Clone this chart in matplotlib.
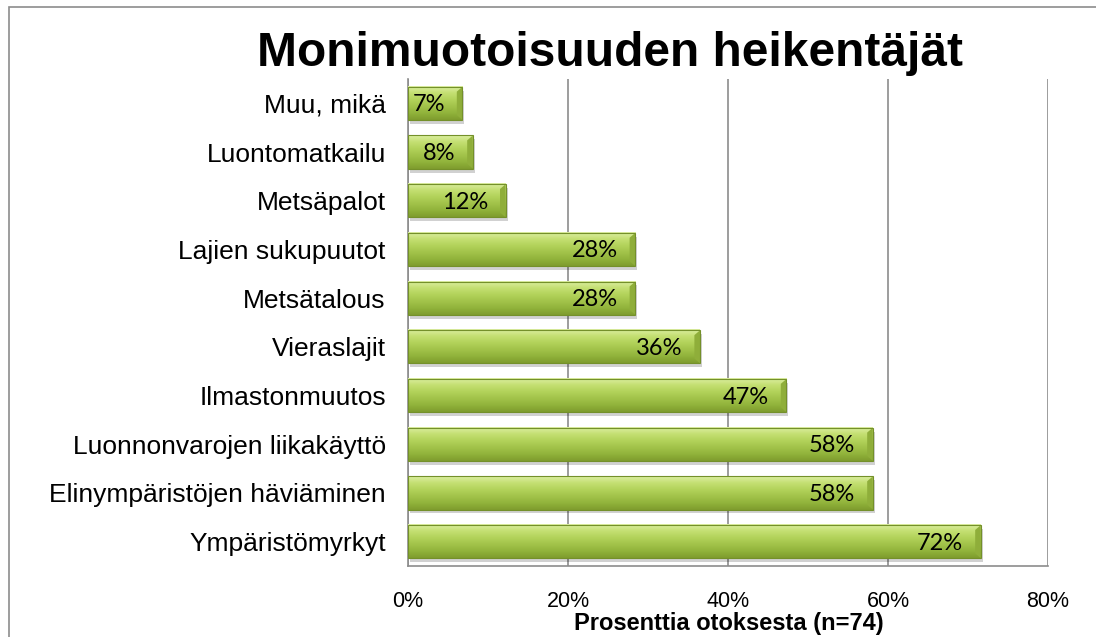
import numpy as np
import matplotlib
matplotlib.use('Agg')
import matplotlib.pyplot as plt
from matplotlib.colors import to_rgb
from matplotlib.patches import Rectangle, Polygon

# data (top to bottom as in the chart)
kategoriat = ['Muu, mikä', 'Luontomatkailu', 'Metsäpalot', 'Lajien sukupuutot',
              'Metsätalous', 'Vieraslajit', 'Ilmastonmuutos',
              'Luonnonvarojen liikakäyttö', 'Elinympäristöjen häviäminen',
              'Ympäristömyrkyt']
osuudet = [6.8, 8.1, 12.2, 28.4, 28.4, 36.5, 47.3, 58.1, 58.1, 71.6]
nimiot = ['7%', '8%', '12%', '28%', '28%', '36%', '47%', '58%', '58%', '72%']
x_ticks = [0, 20, 40, 60, 80]
x_ticklabels = ['0%', '20%', '40%', '60%', '80%']

fontti = ['Liberation Sans', 'DejaVu Sans']

fig = plt.figure(figsize=(10.96, 6.37), dpi=100)
ax = fig.add_axes([408 / 1096, 1 - 566 / 637, 640 / 1096, 487 / 637])

h = 0.68
varit = ['#dbeea0', '#c4df72', '#b2d25a', '#a2c34a', '#91b33b', '#7f9d2e']
grad = np.array([to_rgb(c) for c in varit])
rivit = np.linspace(0, 1, 40)
gr = np.stack([np.interp(rivit, np.linspace(0, 1, len(varit)), grad[:, k]) for k in range(3)], axis=1)
gr = gr[:, None, :]

for i, (v, t) in enumerate(zip(osuudet, nimiot)):
    # varjo
    ax.add_patch(Rectangle((0.25, i - h / 2 + 0.08), v, h, facecolor='#000000',
                           alpha=0.18, edgecolor='none', zorder=2))
    ax.imshow(gr, extent=[0, v, i + h / 2, i - h / 2], origin='upper',
              aspect='auto', zorder=3, interpolation='bilinear')
    b = 0.7
    ax.add_patch(Polygon([(v - b, i - h / 2 + 0.1), (v, i - h / 2), (v, i + h / 2),
                          (v - b, i + h / 2 - 0.1)], closed=True,
                         facecolor='#8fae3a', edgecolor='none', zorder=4))
    ax.add_patch(Rectangle((0, i - h / 2), v, h, facecolor='none',
                           edgecolor='#74902a', linewidth=0.8, zorder=5))
    ax.text(v - 2.2, i + 0.03, t, ha='right', va='center', fontsize=17,
            family=['Lato', 'DejaVu Sans'], color='black', zorder=6)

ax.set_xlim(0, 80)
ax.set_ylim(len(kategoriat) - 0.5, -0.5)
ax.set_yticks(range(len(kategoriat)))
ax.set_yticklabels(kategoriat, fontsize=19, family=fontti)
ax.set_xticks(x_ticks)
ax.set_xticklabels(x_ticklabels, fontsize=15.5, family=fontti)
ax.tick_params(axis='y', length=0, pad=16)
ax.tick_params(axis='x', length=0, pad=18)
ax.grid(axis='x', color='#8c8c8c', linewidth=1.2, zorder=0)
ax.set_axisbelow(True)
for s in ['top', 'right']:
    ax.spines[s].set_visible(False)
for s in ['left', 'bottom']:
    ax.spines[s].set_color('#8c8c8c')
    ax.spines[s].set_linewidth(1.2)

fig.text(729 / 1096, 1 - 630 / 637, 'Prosenttia otoksesta (n=74)', ha='center', va='baseline',
         fontsize=17, fontweight='bold', family=fontti)
fig.text(610 / 1096, 1 - 66 / 637, 'Monimuotoisuuden heikentäjät', ha='center', va='baseline',
         fontsize=34.5, fontweight='bold', family=fontti)

# kaavion reunus
fig.add_artist(Rectangle((9 / 1096, -0.1), 1.2, 1 - 7 / 637 + 0.1, transform=fig.transFigure,
                         facecolor='none', edgecolor='#8c8c8c', linewidth=1.2))

fig.savefig('out.png', dpi=100)
